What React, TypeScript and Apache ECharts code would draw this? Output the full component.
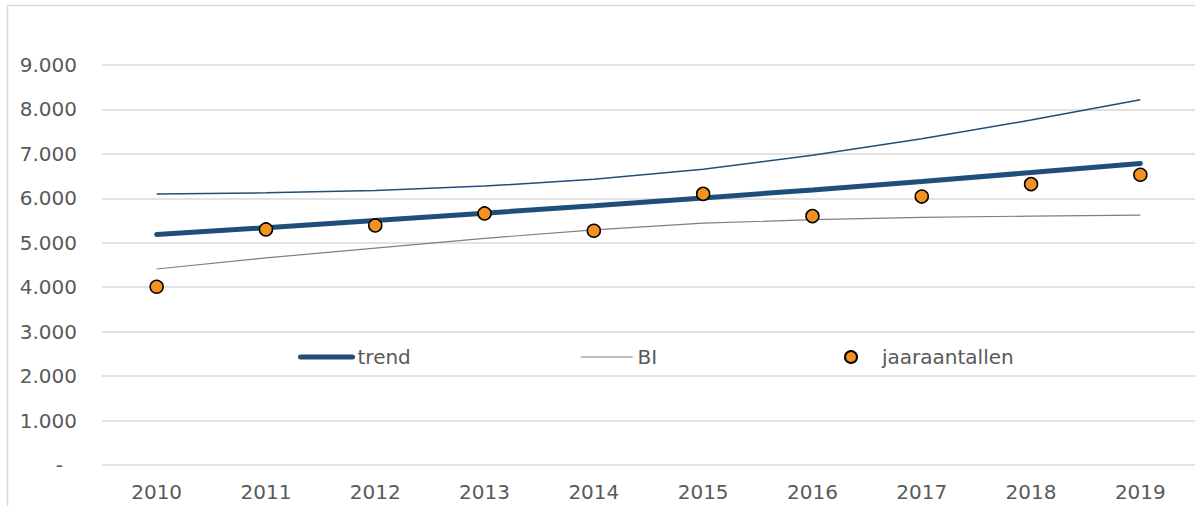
import React, { useEffect, useRef } from "react";
import * as echarts from "echarts";

const years = ["2010", "2011", "2012", "2013", "2014", "2015", "2016", "2017", "2018", "2019"];
const trend = [5187, 5340, 5500, 5665, 5835, 6010, 6190, 6380, 6580, 6786];
const biUpper = [6100, 6125, 6175, 6275, 6430, 6655, 6970, 7340, 7760, 8220];
const biLower = [4410, 4660, 4880, 5100, 5290, 5440, 5520, 5570, 5600, 5620];
const jaaraantallen = [4010, 5300, 5390, 5660, 5270, 6100, 5600, 6040, 6320, 6530];

const FONT = "DejaVu Sans";
const TEXT = "#595959";

export default function App() {
  const ref = useRef<HTMLDivElement>(null);
  useEffect(() => {
    document.body.style.margin = "0";
    const chart = echarts.init(ref.current!, undefined, { renderer: "svg" });
    const legendText = { fontFamily: FONT, fontSize: 20, color: TEXT, lineHeight: 20 };
    chart.setOption({
      animation: false,
      backgroundColor: "#ffffff",
      textStyle: { fontFamily: FONT },
      graphic: [
        {
          type: "rect",
          shape: { x: 7.5, y: 5.5, width: 1200, height: 510 },
          style: { fill: "none", stroke: "#d9d9d9", lineWidth: 1.5 },
          silent: true,
          z: -1,
        },
      ],
      grid: { left: 102, top: 65, width: 1096, bottom: 41, containLabel: false },
      xAxis: {
        type: "category",
        data: years,
        boundaryGap: true,
        axisLine: { show: false },
        axisTick: { show: false },
        axisLabel: { fontFamily: FONT, fontSize: 20, color: TEXT, margin: 17 },
      },
      yAxis: {
        type: "value",
        min: 0,
        max: 9000,
        interval: 1000,
        axisLine: { show: false },
        axisTick: { show: false },
        splitLine: { lineStyle: { color: "#d9d9d9", width: 1.5 } },
        axisLabel: {
          fontFamily: FONT,
          fontSize: 20,
          color: TEXT,
          margin: 25,
          formatter: (v: number) =>
            v === 0 ? "{d|-}" : (v / 1000).toFixed(0) + ".000",
          rich: { d: { fontFamily: FONT, fontSize: 20, color: TEXT, padding: [0, 14, 0, 0] } },
        },
      },
      legend: [
        {
          data: ["trend"],
          left: 298,
          top: 347,
          padding: 0,
          itemWidth: 52,
          itemHeight: 14,
          itemStyle: { opacity: 0 },
          lineStyle: { width: 5, cap: "round", color: "#1f4e79" },
          textStyle: legendText,
        },
        {
          data: ["BI"],
          left: 580,
          top: 347,
          padding: 0,
          itemWidth: 52,
          itemHeight: 14,
          itemStyle: { opacity: 0 },
          lineStyle: { width: 1.2, color: "#7f7f7f" },
          textStyle: legendText,
        },
        {
          data: [{ name: "jaaraantallen", icon: "circle" }],
          left: 844,
          top: 347,
          padding: 0,
          itemWidth: 52,
          itemHeight: 12,
          textStyle: legendText,
        },
      ],
      series: [
        {
          name: "BI",
          type: "line",
          data: biLower,
          symbol: "none",
          lineStyle: { color: "#7f7f7f", width: 1.2 },
          itemStyle: { color: "#7f7f7f" },
          z: 2,
        },
        {
          name: "BI boven",
          type: "line",
          data: biUpper,
          symbol: "none",
          lineStyle: { color: "#1f4e79", width: 1.5 },
          itemStyle: { color: "#1f4e79" },
          z: 2,
        },
        {
          name: "trend",
          type: "line",
          data: trend,
          symbol: "none",
          lineStyle: { color: "#1f4e79", width: 5, cap: "round" },
          itemStyle: { color: "#1f4e79" },
          z: 3,
        },
        {
          name: "jaaraantallen",
          type: "scatter",
          data: jaaraantallen,
          symbol: "circle",
          symbolSize: 13,
          itemStyle: { color: "#f39221", borderColor: "#000000", borderWidth: 1.5, opacity: 1 },
          z: 4,
        },
      ],
    });
    return () => chart.dispose();
  }, []);
  return <div ref={ref} style={{ width: 1195, height: 506 }} />;
}
